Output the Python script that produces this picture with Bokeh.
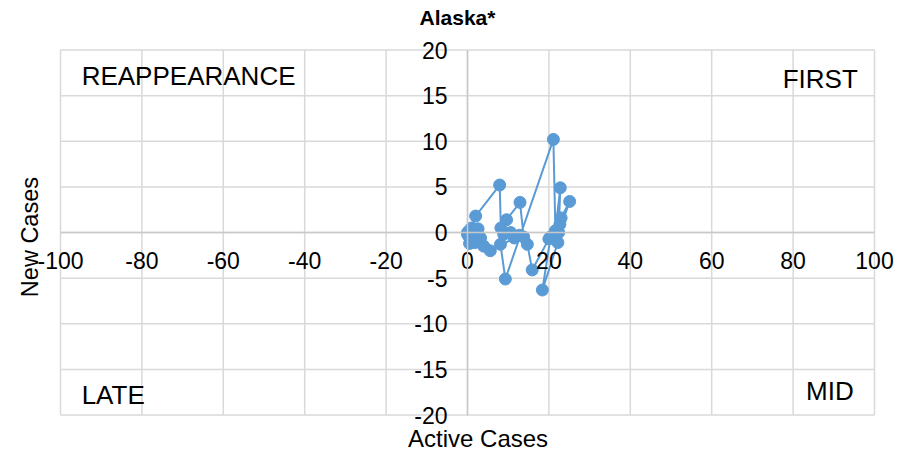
import math
from bokeh.plotting import figure
from bokeh.models import FixedTicker, Label, ColumnDataSource
from bokeh.embed import file_html
from bokeh.resources import INLINE

# Data: trajectory of Active Cases vs New Cases
active_cases = [0.0, 0.3, 0.8, 1.2, 0.5, 1.0, 2.0, 7.9, 8.2, 9.6, 12.9, 13.8, 10.6, 8.9, 8.1, 9.3,
                21.1, 21.6, 22.8, 22.4, 25.1, 23.0, 22.7, 20.4, 18.4, 22.2, 20.0, 15.9, 14.7,
                12.8, 11.5, 5.6, 4.0, 3.2, 2.6, 1.8, 1.0, 0.4, 0.0]
new_cases = [0.0, -0.4, 0.3, -0.8, -1.2, 0.5, 1.8, 5.2, 0.5, 1.4, 3.3, -0.5, 0.0, -0.2, -1.3, -5.1,
             10.2, 0.2, 4.9, 0.0, 3.4, 1.6, 0.9, -0.5, -6.3, -1.1, -0.7, -4.1, -1.3,
             -0.3, -0.6, -2.0, -1.5, -0.6, 0.4, -1.1, -0.4, 0.2, -0.2]

x_ticks = [-100, -80, -60, -40, -20, 0, 20, 40, 60, 80, 100]
y_ticks = [-20, -15, -10, -5, 0, 5, 10, 15, 20]

quadrant_names = ["REAPPEARANCE", "FIRST", "LATE", "MID"]

title_text = "Alaska*"
x_title = "Active Cases"
y_title = "New Cases"

FONT = "Liberation Sans"
BLUE = "#5B9BD5"
GRID = "#D9D9D9"
TICK_SIZE = "23px"

# Layout: the plot box (-100..100, -20..20) sits at these pixel positions in the canvas
W, H = 905, 454
BOX_L, BOX_R, BOX_T, BOX_B = 60.0, 874.0, 49.5, 414.5
xmin, xmax = x_ticks[0], x_ticks[-1]
ymin, ymax = y_ticks[0], y_ticks[-1]
sx = (BOX_R - BOX_L) / (xmax - xmin)
sy = (BOX_B - BOX_T) / (ymax - ymin)
x_range = (xmin - BOX_L / sx, xmin + (W - BOX_L) / sx)
y_range = (ymax - (H - BOX_T) / sy, ymax + BOX_T / sy)

p = figure(width=W, height=H, x_range=x_range, y_range=y_range,
           output_backend="svg", toolbar_location=None,
           min_border_left=0, min_border_right=0, min_border_top=0, min_border_bottom=0)

p.title = None
p.outline_line_color = None
p.background_fill_color = "white"
p.border_fill_color = "white"
for g in p.grid:
    g.grid_line_color = None

# Gridlines restricted to the plot box
p.segment(x0=x_ticks, y0=[ymin] * len(x_ticks), x1=x_ticks, y1=[ymax] * len(x_ticks),
          line_color=GRID, line_width=1.5)
p.segment(x0=[xmin] * len(y_ticks), y0=y_ticks, x1=[xmax] * len(y_ticks), y1=y_ticks,
          line_color=GRID, line_width=1.5)

for ax in (p.xaxis[0], p.yaxis[0]):
    ax.fixed_location = 0
    ax.axis_line_color = "#C8C8C8"
    ax.axis_line_width = 1.5
    ax.major_tick_in = 0
    ax.major_tick_out = 0
    ax.minor_tick_in = 0
    ax.minor_tick_out = 0
    ax.major_label_text_font = FONT
    ax.major_label_text_font_size = TICK_SIZE
    ax.major_label_text_color = "black"

p.xaxis[0].bounds = (xmin, xmax)
p.yaxis[0].bounds = (ymin, ymax)
p.xaxis[0].ticker = FixedTicker(ticks=x_ticks)
p.yaxis[0].ticker = FixedTicker(ticks=y_ticks)
p.xaxis[0].major_label_overrides = {t: str(t) for t in x_ticks}
p.yaxis[0].major_label_overrides = {t: str(t) for t in y_ticks}
p.xaxis[0].major_label_standoff = 19
p.yaxis[0].major_label_standoff = 20

src = ColumnDataSource(data=dict(x=active_cases, y=new_cases))
p.line("x", "y", source=src, line_color=BLUE, line_width=2)
p.scatter("x", "y", source=src, size=12, fill_color=BLUE, line_color=BLUE)

# Quadrant labels
pos = [(-94.8, 17.15, "left"), (95.9, 16.85, "right"), (-94.8, -17.8, "left"), (94.9, -17.36, "right")]
for name, (lx, ly, al) in zip(quadrant_names, pos):
    p.add_layout(Label(x=lx, y=ly, text=name, text_align=al, text_baseline="middle",
                       text_font=FONT, text_font_size="26px", text_color="black"))

# Chart title and axis titles
p.add_layout(Label(x=-2.46, y=23.6, text=title_text, text_align="center", text_baseline="middle",
                   text_font=FONT, text_font_size="21px", text_font_style="bold", text_color="black"))
p.add_layout(Label(x=2.6, y=-22.6, text=x_title, text_align="center", text_baseline="middle",
                   text_font=FONT, text_font_size="24px", text_color="black"))
p.add_layout(Label(x=-107.4, y=-0.5, text=y_title, text_align="center", text_baseline="middle",
                   angle=math.pi / 2, text_font=FONT, text_font_size="23.5px", text_color="black"))

open("out.html", "w").write(file_html(p, INLINE))
